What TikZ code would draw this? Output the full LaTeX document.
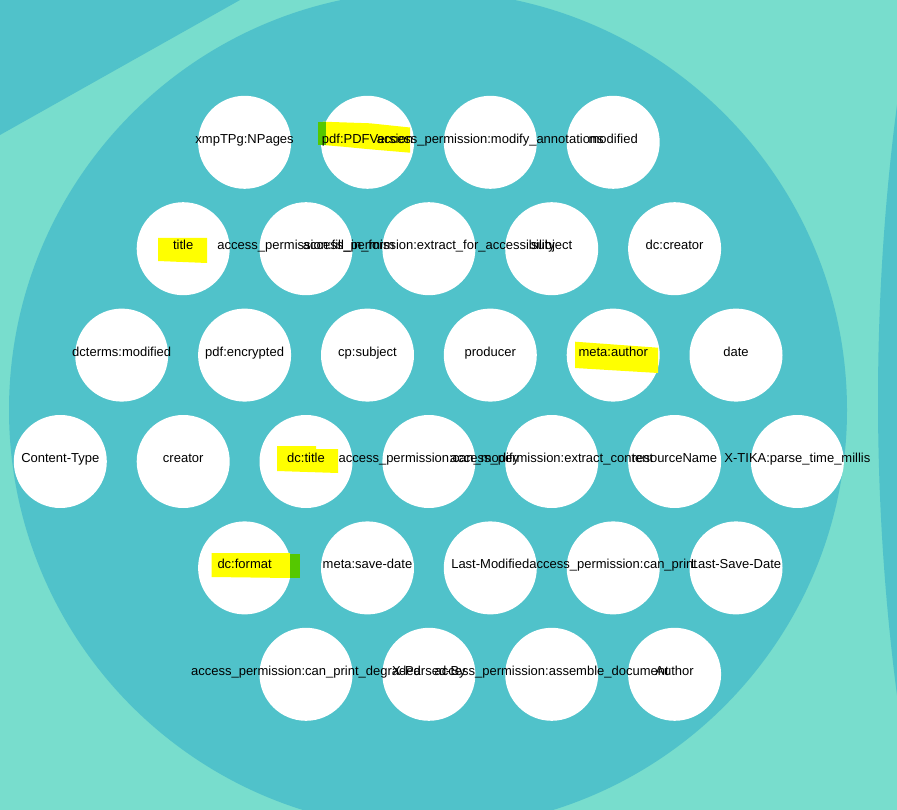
\documentclass[tikz,border=0pt]{standalone}
\usepackage{fontspec}
\setmainfont{Liberation Sans}
\definecolor{bglight}{HTML}{78DDCD}
\definecolor{bgdark}{HTML}{50C2CA}
\definecolor{hlyellow}{HTML}{FFFF00}
\definecolor{hlgreen}{HTML}{55C800}
\tikzset{
  dot/.style={circle, fill=white, draw=none, minimum size=93pt, inner sep=0pt},
  lbl/.style={anchor=base, inner sep=0pt, text=black, font=\fontsize{13}{15}\selectfont},
  hly/.style={fill=hlyellow, draw=none},
  hlg/.style={fill=hlgreen, draw=none}
}
\def\items{
 a1/244.6/142.3/xmpTPg:NPages,
 a2/367.5/142.3/pdf:PDFVersion,
 a3/490.3/142.3/access\_permission:modify\_annotations,
 a4/613.2/142.3/modified,
 b1/183.2/248.7/title,
 b2/306.0/248.7/access\_permission:fill\_in\_form,
 b3/428.9/248.7/access\_permission:extract\_for\_accessibility,
 b4/551.7/248.7/subject,
 b5/674.6/248.7/dc:creator,
 c1/121.7/355.1/dcterms:modified,
 c2/244.6/355.1/pdf:encrypted,
 c3/367.5/355.1/cp:subject,
 c4/490.3/355.1/producer,
 c5/613.2/355.1/meta:author,
 c6/736.0/355.1/date,
 d1/60.3/461.5/Content-Type,
 d2/183.2/461.5/creator,
 d3/306.0/461.5/dc:title,
 d4/428.9/461.5/access\_permission:can\_modify,
 d5/551.7/461.5/access\_permission:extract\_content,
 d6/674.6/461.5/resourceName,
 d7/797.4/461.5/X-TIKA:parse\_time\_millis,
 e1/244.6/567.9/dc:format,
 e2/367.5/567.9/meta:save-date,
 e3/490.3/567.9/Last-Modified,
 e4/613.2/567.9/access\_permission:can\_print,
 e5/736.0/567.9/Last-Save-Date,
 f1/306.0/674.3/access\_permission:can\_print\_degraded,
 f2/428.9/674.3/X-Parsed-By,
 f3/551.7/674.3/access\_permission:assemble\_document,
 f4/674.6/674.3/Author}
\begin{document}
\begin{tikzpicture}[x=1pt,y=-1pt]
\useasboundingbox (0,0) rectangle (897,810);
\clip (0,0) rectangle (897,810);
% background
\fill[bglight] (0,0) rectangle (897,810);
\fill[bgdark] (0,0) -- (240,0) -- (0,135) -- cycle;
\fill[bgdark] (428,410) circle[radius=419];
\fill[bgdark] (3153,400) circle[radius=2275];
% circles
\foreach \n/\x/\y/\t in \items {
  \node[dot] (c\n) at (\x,\y) {};
}
% highlights
\fill[hly] (158,238) -- (207,238) -- (207,263) -- (158,261) -- cycle;
\fill[hly] (323,121.7) -- (370,123.3) -- (410,127.5) -- (410,152.7) -- (370,149.3) -- (343,146.7) -- (323,145) -- cycle;
\fill[hlg] (318,121.7) rectangle (326,145);
\fill[hly] (575,341.7) -- (658,347.7) -- (658,373) -- (575,368) -- cycle;
\fill[hly] (277,446) -- (316,446) -- (316,449) -- (338,449) -- (338,473) -- (277,471) -- cycle;
\fill[hly] (211.7,553) -- (290,553) -- (290,578) -- (211.7,577) -- cycle;
\fill[hlg] (290,554) rectangle (300,578);
% labels
\foreach \n/\x/\y/\t in \items {
  \node[lbl] (t\n) at ([yshift=-1pt]c\n.center) {\t};
}
\end{tikzpicture}
\end{document}
